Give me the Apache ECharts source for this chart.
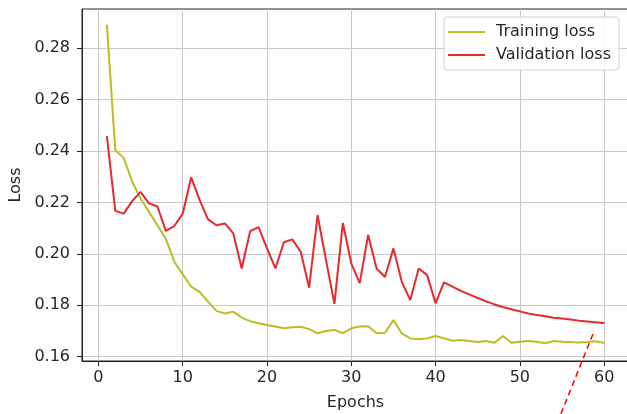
<!DOCTYPE html>
<html>
<head>
<meta charset="utf-8">
<script src="https://cdn.jsdelivr.net/npm/echarts@6/dist/echarts.min.js"></script>
<style>
  html, body { margin: 0; padding: 0; background: #fff; }
  #chart { width: 627px; height: 414px; }
</style>
</head>
<body>
<div id="chart"></div>
<script>
// Loss per epoch for a 60-epoch training run
const epochs = Array.from({ length: 60 }, (_, i) => i + 1);

const trainingLoss = [
  0.2890, 0.2403, 0.2373, 0.2280, 0.2215, 0.2163, 0.2111, 0.2058, 0.1969, 0.1920,
  0.1872, 0.1852, 0.1814, 0.1778, 0.1768, 0.1775, 0.1752, 0.1738, 0.1730, 0.1723,
  0.1717, 0.1710, 0.1714, 0.1716, 0.1707, 0.1691, 0.1700, 0.1704, 0.1691, 0.1710,
  0.1717, 0.1718, 0.1691, 0.1693, 0.1742, 0.1690, 0.1671, 0.1668, 0.1671, 0.1680,
  0.1671, 0.1662, 0.1665, 0.1661, 0.1657, 0.1661, 0.1654, 0.1680, 0.1654, 0.1658,
  0.1661, 0.1658, 0.1652, 0.1661, 0.1658, 0.1657, 0.1655, 0.1657, 0.1660, 0.1653
];

const validationLoss = [
  0.2458, 0.2167, 0.2156, 0.2205, 0.2241, 0.2196, 0.2184, 0.2089, 0.2108, 0.2156,
  0.2297, 0.2210, 0.2134, 0.2111, 0.2118, 0.2079, 0.1943, 0.2088, 0.2104, 0.2021,
  0.1943, 0.2045, 0.2056, 0.2008, 0.1868, 0.2150, 0.1976, 0.1805, 0.2120, 0.1963,
  0.1886, 0.2073, 0.1943, 0.1910, 0.2021, 0.1890, 0.1820, 0.1943, 0.1917, 0.1808,
  0.1889, 0.1872, 0.1856, 0.1842, 0.1828, 0.1815, 0.1803, 0.1793, 0.1784, 0.1776,
  0.1768, 0.1762, 0.1757, 0.1751, 0.1748, 0.1744, 0.1740, 0.1737, 0.1734, 0.1731
];

const xTicks = [0, 10, 20, 30, 40, 50, 60];
const yTicks = [0.16, 0.18, 0.20, 0.22, 0.24, 0.26, 0.28];

const FONT = 'DejaVu Sans';
const FONT_SIZE = 16;
const TEXT = '#262626';
const OLIVE = '#bcbd22';
const RED = '#e8282b';

const chart = echarts.init(document.getElementById('chart'), null, { renderer: 'canvas' });

chart.setOption({
  backgroundColor: '#ffffff',
  animation: false,
  textStyle: { fontFamily: FONT },
  grid: {
    left: 82, top: 9, right: -2, bottom: 53,
    outerBoundsMode: 'none',
    containLabel: false,
    show: true,
    borderColor: '#222',
    borderWidth: 1,
    backgroundColor: 'transparent'
  },
  legend: {
    orient: 'vertical',
    left: 444,
    top: 17,
    padding: [6, 8, 6, 4],
    itemGap: 5,
    itemWidth: 37,
    itemHeight: 2,
    icon: 'rect',
    backgroundColor: 'rgba(255,255,255,0.85)',
    borderColor: '#d0d0d0',
    borderWidth: 1,
    borderRadius: 3,
    textStyle: { fontFamily: FONT, fontSize: FONT_SIZE, color: TEXT, padding: [0, 0, 0, 6], lineHeight: 18 },
    data: ['Training loss', 'Validation loss']
  },
  xAxis: {
    type: 'value',
    min: -1.95,
    max: 62.95,
    name: 'Epochs',
    nameLocation: 'middle',
    nameGap: 34,
    nameTextStyle: { fontFamily: FONT, fontSize: FONT_SIZE, color: TEXT },
    axisLine: { show: true, onZero: false, lineStyle: { color: '#222', width: 1 } },
    axisTick: { show: true, length: 5, inside: false, customValues: xTicks, lineStyle: { color: '#222' } },
    axisLabel: { customValues: xTicks, margin: 9, fontFamily: FONT, fontSize: FONT_SIZE, color: TEXT },
    splitLine: { show: true, lineStyle: { color: '#c8c8c8', width: 1 } }
  },
  yAxis: {
    type: 'value',
    min: 0.1583,
    max: 0.2952,
    name: 'Loss',
    nameLocation: 'middle',
    nameGap: 58,
    nameRotate: 90,
    nameTextStyle: { fontFamily: FONT, fontSize: FONT_SIZE, color: TEXT },
    axisLine: { show: true, onZero: false, lineStyle: { color: '#222', width: 1 } },
    axisTick: { show: true, length: 5, inside: false, customValues: yTicks, lineStyle: { color: '#222' } },
    axisLabel: {
      customValues: yTicks, margin: 12, fontFamily: FONT, fontSize: FONT_SIZE, color: TEXT,
      formatter: v => v.toFixed(2)
    },
    splitLine: { show: true, lineStyle: { color: '#c8c8c8', width: 1 } }
  },
  series: [
    {
      name: 'Training loss',
      type: 'line',
      data: epochs.map((e, i) => [e, trainingLoss[i]]),
      showSymbol: false,
      symbol: 'none',
      color: OLIVE,
      lineStyle: { color: OLIVE, width: 2 },
      z: 3
    },
    {
      name: 'Validation loss',
      type: 'line',
      data: epochs.map((e, i) => [e, validationLoss[i]]),
      showSymbol: false,
      symbol: 'none',
      color: RED,
      lineStyle: { color: RED, width: 2 },
      z: 4
    }
  ],
  graphic: [
    {
      // hand-drawn style dashed pointer below the last epoch
      type: 'line',
      z: 100,
      shape: { x1: 593, y1: 334, x2: 560, y2: 416 },
      style: { stroke: '#ff0000', lineWidth: 1.5, lineDash: [6, 4] }
    }
  ]
});
</script>
</body>
</html>
